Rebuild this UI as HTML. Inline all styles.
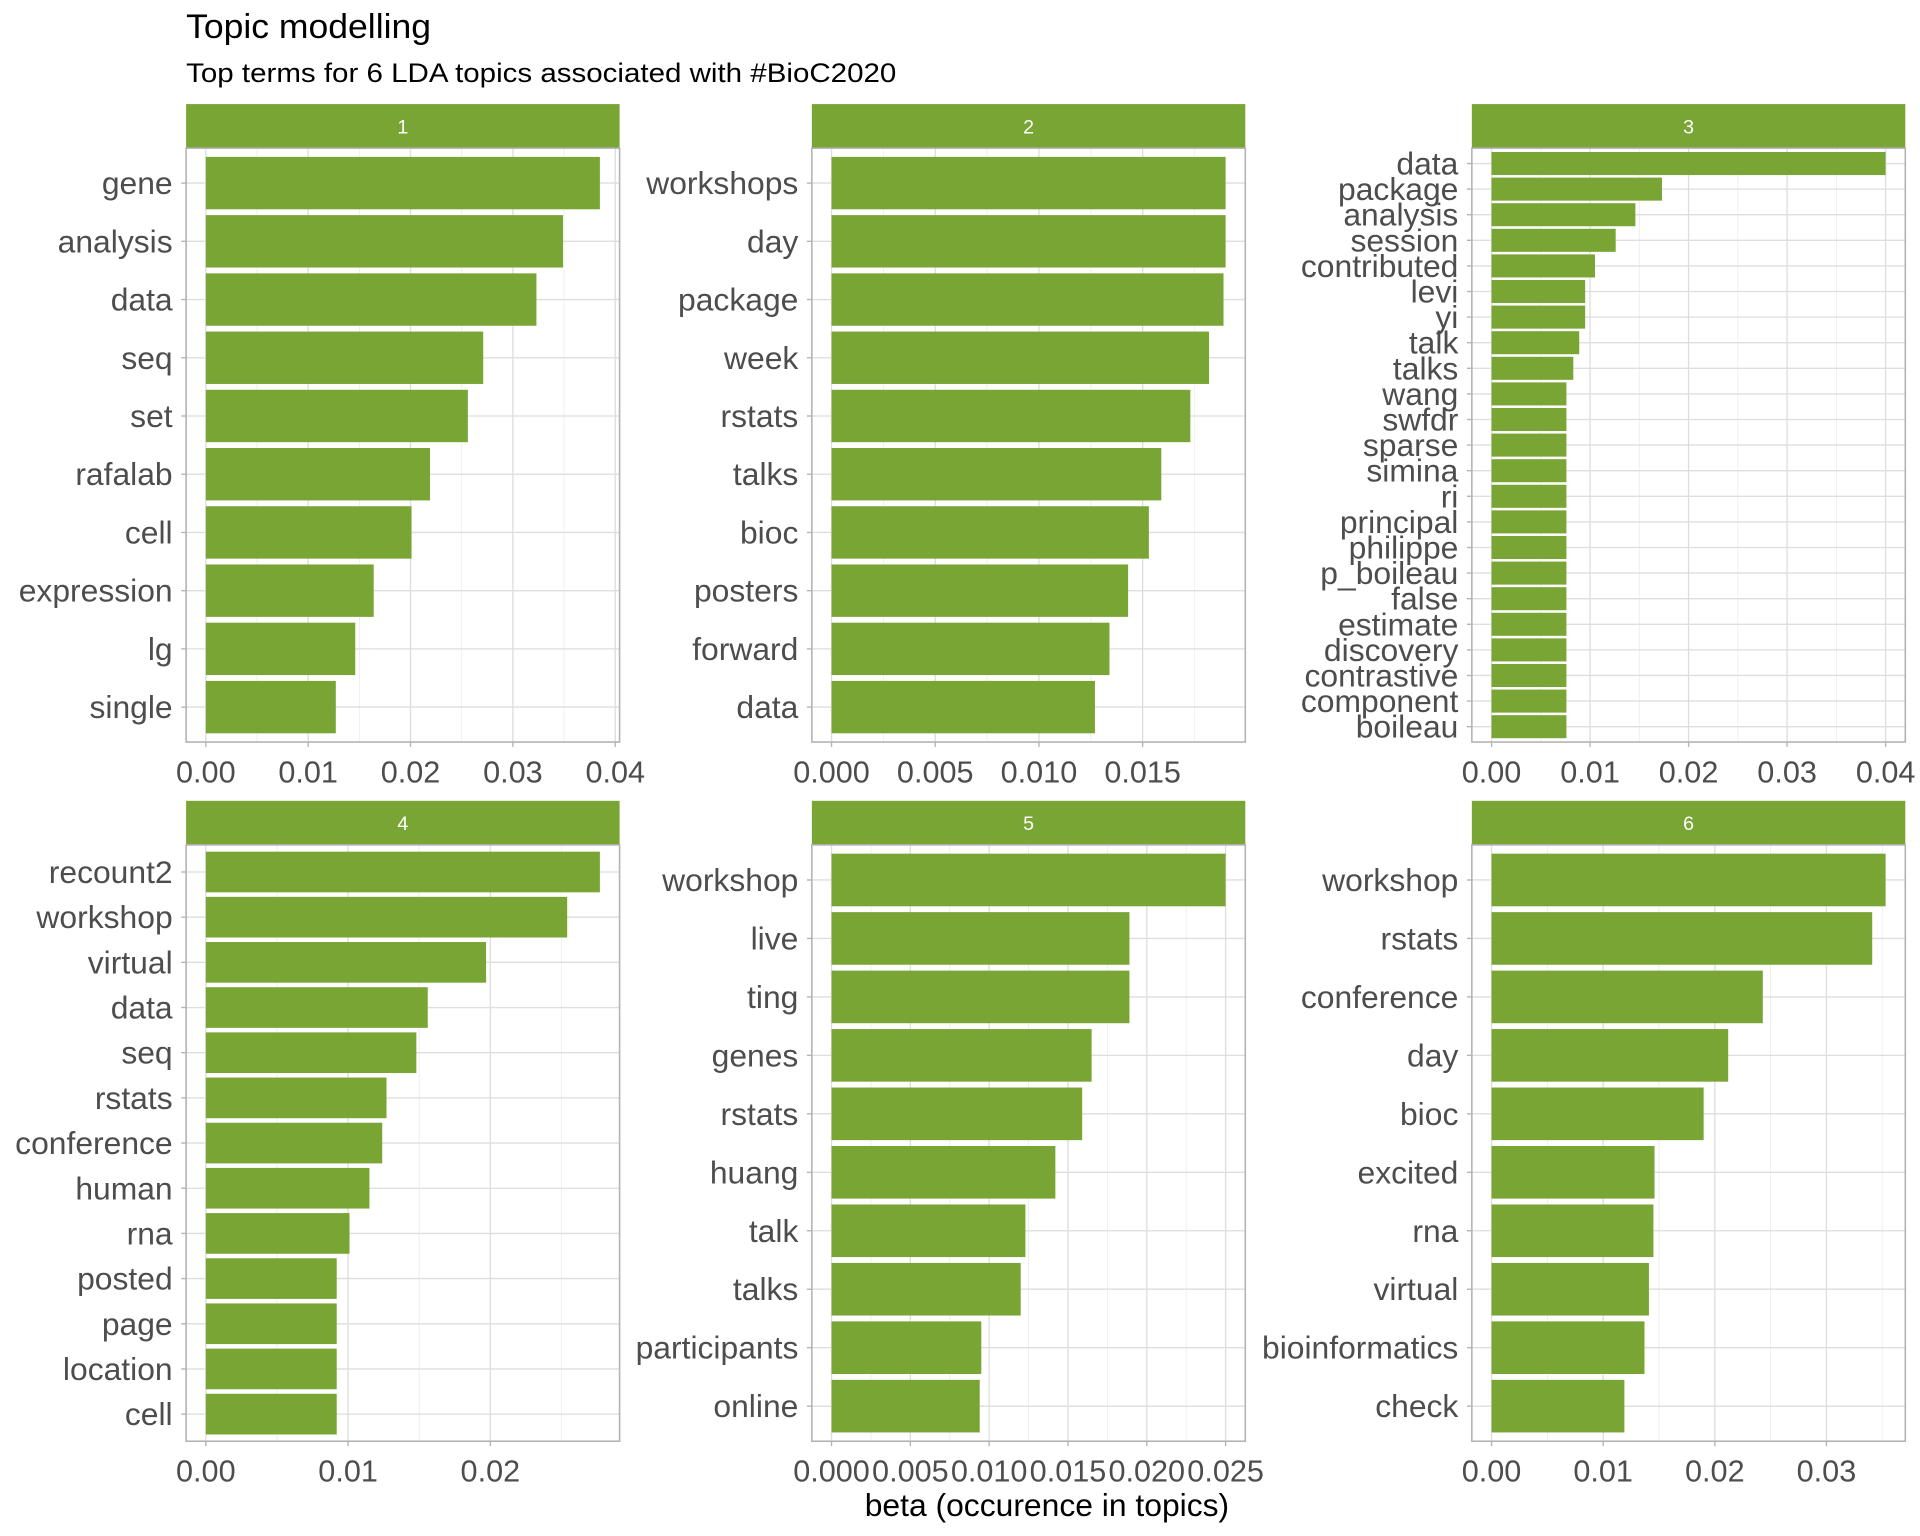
<!DOCTYPE html>
<html><head><meta charset="utf-8"><style>
html,body{margin:0;padding:0;background:#fff;}
svg{display:block;font-family:"Liberation Sans",Arial,sans-serif;}
</style></head><body>
<svg id="chart" width="1920" height="1536" viewBox="0 0 1568 1254.4" xmlns="http://www.w3.org/2000/svg">
<text x="152" y="31" font-size="28" fill="#000" textLength="200" lengthAdjust="spacingAndGlyphs">Topic modelling</text>
<text x="152" y="67" font-size="22" fill="#000" textLength="580" lengthAdjust="spacingAndGlyphs">Top terms for 6 LDA topics associated with #BioC2020</text>
<text x="855" y="1238" font-size="26" fill="#000" text-anchor="middle">beta (occurence in topics)</text>
<g id="panels"></g>
</svg>
<script>
const topicIds = ["1","2","3","4","5","6"];
const terms1 = ["gene","analysis","data","seq","set","rafalab","cell","expression","lg","single"];
const beta1 = [0.0385,0.0349,0.0323,0.0271,0.0256,0.0219,0.0201,0.0164,0.0146,0.0127];
const terms2 = ["workshops","day","package","week","rstats","talks","bioc","posters","forward","data"];
const beta2 = [0.0190,0.0190,0.0189,0.0182,0.0173,0.0159,0.0153,0.0143,0.0134,0.0127];
const terms3 = ["data","package","analysis","session","contributed","levi","yi","talk","talks","wang","swfdr","sparse","simina","ri","principal","philippe","p_boileau","false","estimate","discovery","contrastive","component","boileau"];
const beta3 = [0.0400,0.0173,0.0146,0.0126,0.0105,0.0095,0.0095,0.0089,0.0083,0.0076,0.0076,0.0076,0.0076,0.0076,0.0076,0.0076,0.0076,0.0076,0.0076,0.0076,0.0076,0.0076,0.0076];
const terms4 = ["recount2","workshop","virtual","data","seq","rstats","conference","human","rna","posted","page","location","cell"];
const beta4 = [0.0277,0.0254,0.0197,0.0156,0.0148,0.0127,0.0124,0.0115,0.0101,0.0092,0.0092,0.0092,0.0092];
const terms5 = ["workshop","live","ting","genes","rstats","huang","talk","talks","participants","online"];
const beta5 = [0.0250,0.0189,0.0189,0.0165,0.0159,0.0142,0.0123,0.0120,0.0095,0.0094];
const terms6 = ["workshop","rstats","conference","day","bioc","excited","rna","virtual","bioinformatics","check"];
const beta6 = [0.0353,0.0341,0.0243,0.0212,0.0190,0.0146,0.0145,0.0141,0.0137,0.0119];
const ticks1 = [0,0.01,0.02,0.03,0.04];
const tickLabels1 = ["0.00","0.01","0.02","0.03","0.04"];
const ticks2 = [0,0.005,0.01,0.015];
const tickLabels2 = ["0.000","0.005","0.010","0.015"];
const ticks3 = [0,0.01,0.02,0.03,0.04];
const tickLabels3 = ["0.00","0.01","0.02","0.03","0.04"];
const ticks4 = [0,0.01,0.02];
const tickLabels4 = ["0.00","0.01","0.02"];
const ticks5 = [0,0.005,0.01,0.015,0.02,0.025];
const tickLabels5 = ["0.000","0.005","0.010","0.015","0.020","0.025"];
const ticks6 = [0,0.01,0.02,0.03];
const tickLabels6 = ["0.00","0.01","0.02","0.03"];

const NS="http://www.w3.org/2000/svg";
const root=document.getElementById('panels');
function mk(tag,attrs,parent){const e=document.createElementNS(NS,tag);for(const k in attrs)e.setAttribute(k,attrs[k]);(parent||root).appendChild(e);return e;}
const colX=[152,663,1202], W=354;
const rows=[{s:85,t:121,b:606},{s:654,t:690,b:1177}];
const data=[[terms1,beta1,ticks1,tickLabels1],[terms2,beta2,ticks2,tickLabels2],[terms3,beta3,ticks3,tickLabels3],[terms4,beta4,ticks4,tickLabels4],[terms5,beta5,ticks5,tickLabels5],[terms6,beta6,ticks6,tickLabels6]];
const GREEN="#78a534";
data.forEach((d,i)=>{
  const [terms,vals,ticks,tl]=d;
  const x0=colX[i%3], r=rows[Math.floor(i/3)];
  const H=r.b-r.t;
  const max=Math.max(...vals);
  const sc=W/(1.1*max);
  const xs=v=>x0+0.05*max*sc+v*sc;
  const n=terms.length, band=H/(n+0.2);
  const ys=j=>r.t+band*(0.6+j);
  const g=mk('g',{});
  
  
  const strip=mk('rect',{x:x0,y:r.s,width:W,height:r.t-r.s,fill:GREEN},g);
  
  
  const st=mk('text',{x:x0+W/2,y:r.s+24,'font-size':16,fill:'#fff','text-anchor':'middle'},g);
  st.textContent=topicIds[i];
  
  
  for(let k=0;k<ticks.length;k++){
    const step=ticks.length>1?ticks[1]-ticks[0]:0;
    [ticks[k]-step/2,ticks[k]+step/2].forEach(m=>{const px=xs(m);if(px>x0&&px<x0+W){const l=mk('line',{x1:px,x2:px,y1:r.t,y2:r.b,stroke:'#ededed','stroke-width':0.6},g);}});
  }
  ticks.forEach((t,k)=>{
    const px=xs(t);
    const l=mk('line',{x1:px,x2:px,y1:r.t,y2:r.b,stroke:'#dedede','stroke-width':1.1},g);
    
    
    mk('line',{x1:px,x2:px,y1:r.b,y2:r.b+4,stroke:'#b3b3b3','stroke-width':1.1},g);
    const tx=mk('text',{x:px,y:r.b+33,'font-size':25,fill:'#4d4d4d','text-anchor':'middle'},g);
    tx.textContent=tl[k];
    
    
  });
  terms.forEach((term,j)=>{
    const y=ys(j);
    const gl=mk('line',{x1:x0,x2:x0+W,y1:y,y2:y,stroke:'#dedede','stroke-width':1.1},g);
    
    
    mk('line',{x1:x0-4,x2:x0,y1:y,y2:y,stroke:'#b3b3b3','stroke-width':1.1},g);
    const b=mk('rect',{x:xs(0),y:y-band*0.45,width:xs(vals[j])-xs(0),height:band*0.9,fill:GREEN},g);
    
    
    const lt=mk('text',{x:x0-11,y:y+9,'font-size':26,fill:'#4d4d4d','text-anchor':'end'},g);
    lt.textContent=term;
    
    
  });
  const br=mk('rect',{x:x0,y:r.t,width:W,height:H,fill:'none',stroke:'#b3b3b3','stroke-width':1.3},g);
  
  
});
</script>
</body></html>
